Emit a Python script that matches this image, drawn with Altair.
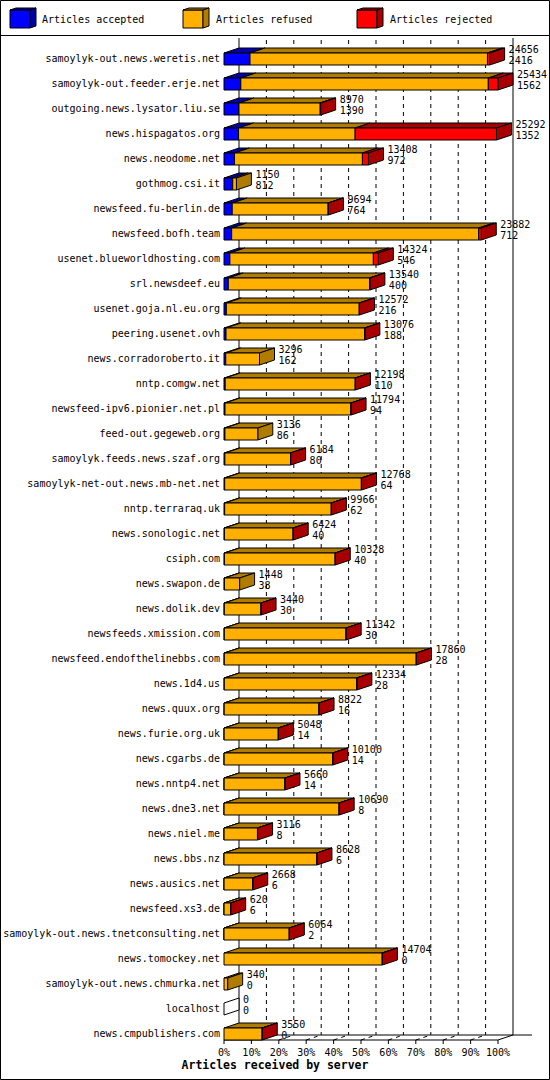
import altair as alt
import pandas as pd

# ---- data -----------------------------------------------------------------
servers = [
    "samoylyk-out.news.weretis.net",
    "samoylyk-out.feeder.erje.net",
    "outgoing.news.lysator.liu.se",
    "news.hispagatos.org",
    "news.neodome.net",
    "gothmog.csi.it",
    "newsfeed.fu-berlin.de",
    "newsfeed.bofh.team",
    "usenet.blueworldhosting.com",
    "srl.newsdeef.eu",
    "usenet.goja.nl.eu.org",
    "peering.usenet.ovh",
    "news.corradoroberto.it",
    "nntp.comgw.net",
    "newsfeed-ipv6.pionier.net.pl",
    "feed-out.gegeweb.org",
    "samoylyk.feeds.news.szaf.org",
    "samoylyk-net-out.news.mb-net.net",
    "nntp.terraraq.uk",
    "news.sonologic.net",
    "csiph.com",
    "news.swapon.de",
    "news.dolik.dev",
    "newsfeeds.xmission.com",
    "newsfeed.endofthelinebbs.com",
    "news.1d4.us",
    "news.quux.org",
    "news.furie.org.uk",
    "news.cgarbs.de",
    "news.nntp4.net",
    "news.dne3.net",
    "news.niel.me",
    "news.bbs.nz",
    "news.ausics.net",
    "newsfeed.xs3.de",
    "samoylyk-out.news.tnetconsulting.net",
    "news.tomockey.net",
    "samoylyk-out.news.chmurka.net",
    "localhost",
    "news.cmpublishers.com",
]

offered = [24656, 25434, 8970, 25292, 13408, 1150, 9694, 23882, 14324, 13540,
           12572, 13076, 3296, 12198, 11794, 3136, 6184, 12768, 9966, 6424,
           10328, 1448, 3440, 11342, 17860, 12334, 8822, 5048, 10100, 5660,
           10690, 3116, 8628, 2668, 620, 6064, 14704, 340, 0, 3550]

accepted = [2416, 1562, 1390, 1352, 972, 812, 764, 712, 546, 400,
            216, 188, 162, 110, 94, 86, 80, 64, 62, 40,
            40, 38, 30, 30, 28, 28, 16, 14, 14, 14,
            8, 8, 6, 6, 6, 2, 0, 0, 0, 0]

rejected = [200, 900, 40, 13120, 560, 0, 30, 240, 460, 30,
            20, 20, 0, 20, 20, 0, 10, 20, 10, 10,
            10, 0, 10, 20, 20, 20, 10, 10, 10, 10,
            10, 10, 10, 10, 10, 10, 20, 0, 0, 10]

kinds = ["Articles accepted", "Articles refused", "Articles rejected"]
front_colors = ["#0000ff", "#ffb000", "#ff0000"]
shade_colors = ["#0000a8", "#b07c00", "#a80000"]
tick_values = [0, 10, 20, 30, 40, 50, 60, 70, 80, 90, 100]

# ---- layout (pixels) ------------------------------------------------------
LEFT, TOP = 224, 40          # plot origin inside the 550x1080 canvas
W, H = 308, 1000             # plot area
ROW = 25                     # pixels per server row
PX_PER_PCT = 2.74            # front axis: 100 % spans 274 px
DEPTH, RISE = 15, 5          # 3-D extrusion of the bars
FRONT_TOP = 13               # front face starts this far below the row start
FONT = "DejaVu Sans Mono"

D = DEPTH / PX_PER_PCT       # extrusion in percent units
HR = RISE / ROW              # extrusion in row units
FT = FRONT_TOP / ROW

peak = max(offered)

fronts, tops, sides, labels = [], [], [], []
for i, (name, tot, acc, rej) in enumerate(zip(servers, offered, accepted, rejected)):
    parts = [acc, tot - acc - rej, rej]
    start, last = 0.0, None
    for k, v in enumerate(parts):
        if v <= 0:
            continue
        end = start + v / peak * 100
        fid = f"{i}-{k}"
        fronts.append(dict(x0=start, x1=end, yt=i + FT, yb=i + 1, fill=front_colors[k]))
        for x in sorted({start, end, start + D, end + D}):
            lo = i + FT - min(max(x - end, 0), D) / D * HR
            hi = i + FT - min(max(x - start, 0), D) / D * HR
            tops.append(dict(face=fid, x=x, y=lo, y2=hi, fill=shade_colors[k]))
        start, last = end, k
    fill = shade_colors[last] if last is not None else "#ffffff"
    sid = f"{i}-side"
    sides.append(dict(face=sid, x=start, y=i + 1, y2=i + FT, fill=fill))
    sides.append(dict(face=sid, x=start + D, y=i + 1 - HR, y2=i + FT - HR, fill=fill))
    labels.append(dict(row=i, end=start, name=name, total=str(tot), acc=str(acc)))

fronts = pd.DataFrame(fronts)
tops = pd.DataFrame(tops)
sides = pd.DataFrame(sides)
labels = pd.DataFrame(labels)
ticks = pd.DataFrame({"t": tick_values, "label": [f"{t}%" for t in tick_values]})
one = pd.DataFrame({"k": [0]})

x_scale = alt.Scale(domain=[0, W / PX_PER_PCT], nice=False, zero=False)
y_scale = alt.Scale(domain=[0, H / ROW], reverse=True, nice=False, zero=False)


def X(field):
    return alt.X(field, scale=x_scale, axis=None)


def Y(field):
    return alt.Y(field, scale=y_scale, axis=None, stack=None)


# ---- back wall and floor --------------------------------------------------
grid = alt.Chart(ticks).transform_filter("datum.t > 0 && datum.t < 100").mark_rule(
    color="black", strokeWidth=1, strokeDash=[4, 4], xOffset=DEPTH
).encode(x=X("t:Q"), y=alt.value(0), y2=alt.value(H - RISE))

walls = alt.Chart(ticks).transform_filter("datum.t == 0 || datum.t == 100").mark_rule(
    color="black", strokeWidth=1, xOffset=DEPTH
).encode(x=X("t:Q"), y=alt.value(-2), y2=alt.value(H - RISE))

floor_grid = alt.Chart(ticks).transform_filter("datum.t > 0 && datum.t < 100").mark_rule(
    color="black", strokeWidth=1, strokeDash=[4, 4], x2Offset=DEPTH
).encode(x=X("t:Q"), x2="t:Q", y=alt.value(H), y2=alt.value(H - RISE))

floor_edges = alt.Chart(ticks).transform_filter("datum.t == 0 || datum.t == 100").mark_rule(
    color="black", strokeWidth=1, x2Offset=DEPTH
).encode(x=X("t:Q"), x2="t:Q", y=alt.value(H), y2=alt.value(H - RISE))

front_floor = alt.Chart(one).mark_rule(color="black", strokeWidth=1).encode(
    x=alt.X(datum=0, scale=x_scale, axis=None), x2=alt.X2(datum=100), y=alt.value(H)
)

back_floor = alt.Chart(one).mark_rule(color="black", strokeWidth=1).encode(
    x=alt.value(DEPTH), x2=alt.value(W), y=alt.value(H - RISE)
)

tick_marks = alt.Chart(ticks).mark_rule(color="black", strokeWidth=1).encode(
    x=X("t:Q"), y=alt.value(H), y2=alt.value(H + 4)
)

tick_labels = alt.Chart(ticks).mark_text(
    font=FONT, fontSize=10, baseline="middle", align="center", color="black"
).encode(x=X("t:Q"), y=alt.value(H + 12.5), text="label:N")

x_title = alt.Chart(one).mark_text(
    font=FONT, fontSize=11.5, fontWeight="bold", baseline="middle", align="center", color="black"
).encode(x=alt.value(275 - LEFT), y=alt.value(1066 - TOP),
         text=alt.value("Articles received by server"))

# ---- bars -----------------------------------------------------------------
front_faces = alt.Chart(fronts).mark_rect(stroke="black", strokeWidth=1).encode(
    x=X("x0:Q"), x2="x1:Q", y=Y("yt:Q"), y2="yb:Q",
    fill=alt.Fill("fill:N", scale=None),
)

top_faces = alt.Chart(tops).mark_area(
    orient="vertical", stroke="black", strokeWidth=1, opacity=1
).encode(
    x=X("x:Q"), y=Y("y:Q"), y2="y2:Q", detail="face:N",
    fill=alt.Fill("fill:N", scale=None),
)

side_faces = alt.Chart(sides).mark_area(
    orient="vertical", stroke="black", strokeWidth=1, opacity=1
).encode(
    x=X("x:Q"), y=Y("y:Q"), y2="y2:Q", detail="face:N",
    fill=alt.Fill("fill:N", scale=None),
)

# ---- labels ---------------------------------------------------------------
names = alt.Chart(labels).mark_text(
    font=FONT, fontSize=10, align="right", baseline="middle", dy=19, color="black"
).encode(x=alt.value(-4), y=Y("row:Q"), text="name:N")

totals = alt.Chart(labels).mark_text(
    font=FONT, fontSize=10, align="left", baseline="middle", dx=DEPTH + 4, dy=9.5, color="black"
).encode(x=X("end:Q"), y=Y("row:Q"), text="total:N")

accs = alt.Chart(labels).mark_text(
    font=FONT, fontSize=10, align="left", baseline="middle", dx=DEPTH + 4, dy=21, color="black"
).encode(x=X("end:Q"), y=Y("row:Q"), text="acc:N")

# ---- legend and frame -----------------------------------------------------
legend_layers = []
legend_x = [10, 183, 357]
legend_text_x = [42, 216, 390]
for k in range(3):
    fx = legend_x[k] - LEFT
    fy = 10 - TOP
    legend_layers.append(
        alt.Chart(one).mark_rect(fill=front_colors[k], stroke="black", strokeWidth=1).encode(
            x=alt.value(fx), x2=alt.value(fx + 20), y=alt.value(fy), y2=alt.value(fy + 18)
        )
    )
    legend_layers.append(
        alt.Chart(one).mark_point(
            shape="M0,0L6,-2L26,-2L20,0Z", size=4, filled=True, opacity=1,
            fill=shade_colors[k], stroke="black", strokeWidth=1,
        ).encode(x=alt.value(fx), y=alt.value(fy))
    )
    legend_layers.append(
        alt.Chart(one).mark_point(
            shape="M20,0L26,-2L26,16L20,18Z", size=4, filled=True, opacity=1,
            fill=shade_colors[k], stroke="black", strokeWidth=1,
        ).encode(x=alt.value(fx), y=alt.value(fy))
    )
    legend_layers.append(
        alt.Chart(one).mark_text(
            font=FONT, fontSize=10, align="left", baseline="middle", color="black"
        ).encode(x=alt.value(legend_text_x[k] - LEFT), y=alt.value(20 - TOP),
                 text=alt.value(kinds[k]))
    )

separator = alt.Chart(one).mark_rule(color="black", strokeWidth=1).encode(
    x=alt.value(-LEFT), x2=alt.value(550 - LEFT), y=alt.value(35.5 - TOP)
)

border = alt.Chart(one).mark_rect(fillOpacity=0, stroke="black", strokeWidth=1).encode(
    x=alt.value(0.5 - LEFT), x2=alt.value(549.5 - LEFT),
    y=alt.value(0.5 - TOP), y2=alt.value(1079.5 - TOP),
)

chart = alt.layer(
    grid, walls, floor_grid, floor_edges, back_floor, front_floor, tick_marks,
    top_faces, side_faces, front_faces,
    names, totals, accs, tick_labels, x_title,
    *legend_layers, separator, border,
).properties(
    width=W, height=H,
    padding={"left": LEFT, "top": TOP, "right": 550 - LEFT - W, "bottom": 1080 - TOP - H},
    autosize=alt.AutoSizeParams(type="none"),
    background="white",
).configure_view(stroke=None)

chart.save("out.html", embed_options={"renderer": "svg", "actions": False})
